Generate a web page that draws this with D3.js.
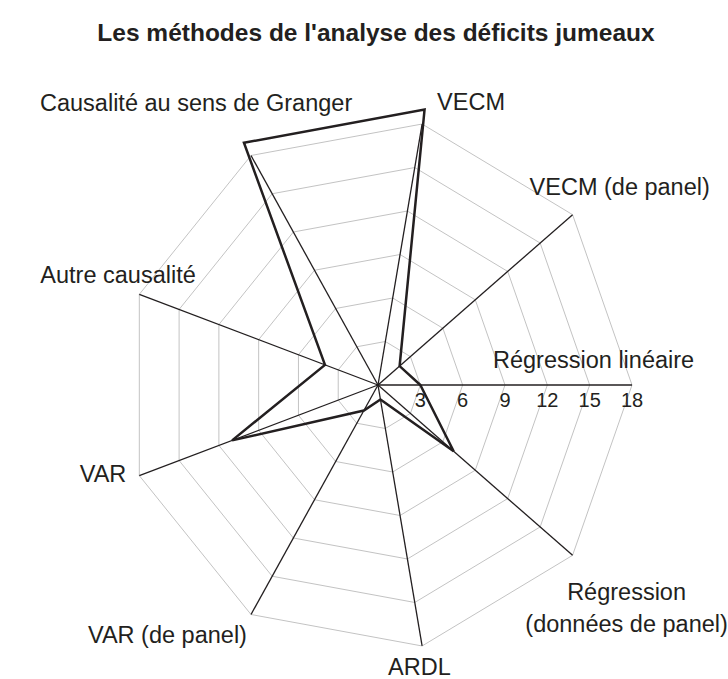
<!DOCTYPE html>
<html>
<head>
<meta charset="utf-8">
<script src="https://cdn.jsdelivr.net/npm/d3@7"></script>
<style>
  body { margin: 0; background: #fff; }
  text { font-family: "Liberation Sans", Arial, sans-serif; fill: #231f20; }
</style>
</head>
<body>
<div id="chart"></div>
<script>
// data
var categories = ["Régression linéaire", "VECM (de panel)", "VECM", "Causalité au sens de Granger",
                  "Autre causalité", "VAR", "VAR (de panel)", "ARDL", "Régression\n(données de panel)"];
var counts = [3, 2, 19, 19, 4, 11, 2, 1, 7];
var ticks = [3, 6, 9, 12, 15, 18];

// label placement, relative to the end of each spoke
var labelPos = [
  {dx: -139, dy: -17, anchor: "start"},
  {dx: -43, dy: -20, anchor: "start"},
  {dx: 15, dy: -14, anchor: "start"},
  {dx: -211, dy: -45, anchor: "start"},
  {dx: -99, dy: -11, anchor: "start"},
  {dx: -13, dy: 6, anchor: "end"},
  {dx: -163, dy: 29, anchor: "start"},
  {dx: -34, dy: 29, anchor: "start"},
  {dx: 54, dy: 45, anchor: "middle"}
];

var width = 728, height = 679,
    cx = 378, cy = 385;

var svg = d3.select("#chart").append("svg")
    .attr("width", width)
    .attr("height", height);

// the picture is a bit narrower than tall, so two radial scales
var rx = d3.scaleLinear().domain([0, 18]).range([0, 254]),
    ry = d3.scaleLinear().domain([0, 18]).range([0, 265]);

var angle = d3.scalePoint()
    .domain(d3.range(categories.length + 1))
    .range([0, 2 * Math.PI]);

function px(i, v) { return cx + rx(v) * Math.cos(angle(i)); }
function py(i, v) { return cy - ry(v) * Math.sin(angle(i)); }

// title
svg.append("text")
    .attr("x", 376)
    .attr("y", 41)
    .attr("text-anchor", "middle")
    .style("font-weight", "bold")
    .style("font-size", "24.5px")
    .text("Les méthodes de l'analyse des déficits jumeaux");

// grid polygons
var line = d3.line().curve(d3.curveLinearClosed);
svg.append("g").selectAll("path")
    .data(ticks)
  .enter().append("path")
    .attr("d", function(t) {
      return line(categories.map(function(c, i) { return [px(i, t), py(i, t)]; }));
    })
    .attr("fill", "none")
    .attr("stroke", "#c3c3c3")
    .attr("stroke-width", 1);

// spokes
svg.append("g").selectAll("line")
    .data(categories)
  .enter().append("line")
    .attr("x1", cx)
    .attr("y1", cy)
    .attr("x2", function(c, i) { return px(i, 18); })
    .attr("y2", function(c, i) { return py(i, 18); })
    .attr("stroke", "#231f20")
    .attr("stroke-width", 1.3);

// tick labels along the first spoke
svg.append("g").selectAll("text")
    .data(ticks)
  .enter().append("text")
    .attr("x", function(t) { return px(0, t); })
    .attr("y", cy + 22)
    .attr("text-anchor", "middle")
    .style("font-size", "20px")
    .text(function(t) { return t; });

// data polygon
svg.append("path")
    .attr("d", line(counts.map(function(v, i) { return [px(i, v), py(i, v)]; })))
    .attr("fill", "none")
    .attr("stroke", "#231f20")
    .attr("stroke-width", 2.5)
    .attr("stroke-linejoin", "miter");

// category labels
var labels = svg.append("g").selectAll("text")
    .data(categories)
  .enter().append("text")
    .attr("x", function(c, i) { return px(i, 18) + labelPos[i].dx; })
    .attr("y", function(c, i) { return py(i, 18) + labelPos[i].dy; })
    .attr("text-anchor", function(c, i) { return labelPos[i].anchor; })
    .style("font-size", "23.5px");

labels.each(function(c) {
  var el = d3.select(this);
  c.split("\n").forEach(function(part, k) {
    el.append("tspan")
      .attr("x", el.attr("x"))
      .attr("dy", k === 0 ? 0 : 32)
      .text(part);
  });
});
</script>
</body>
</html>
